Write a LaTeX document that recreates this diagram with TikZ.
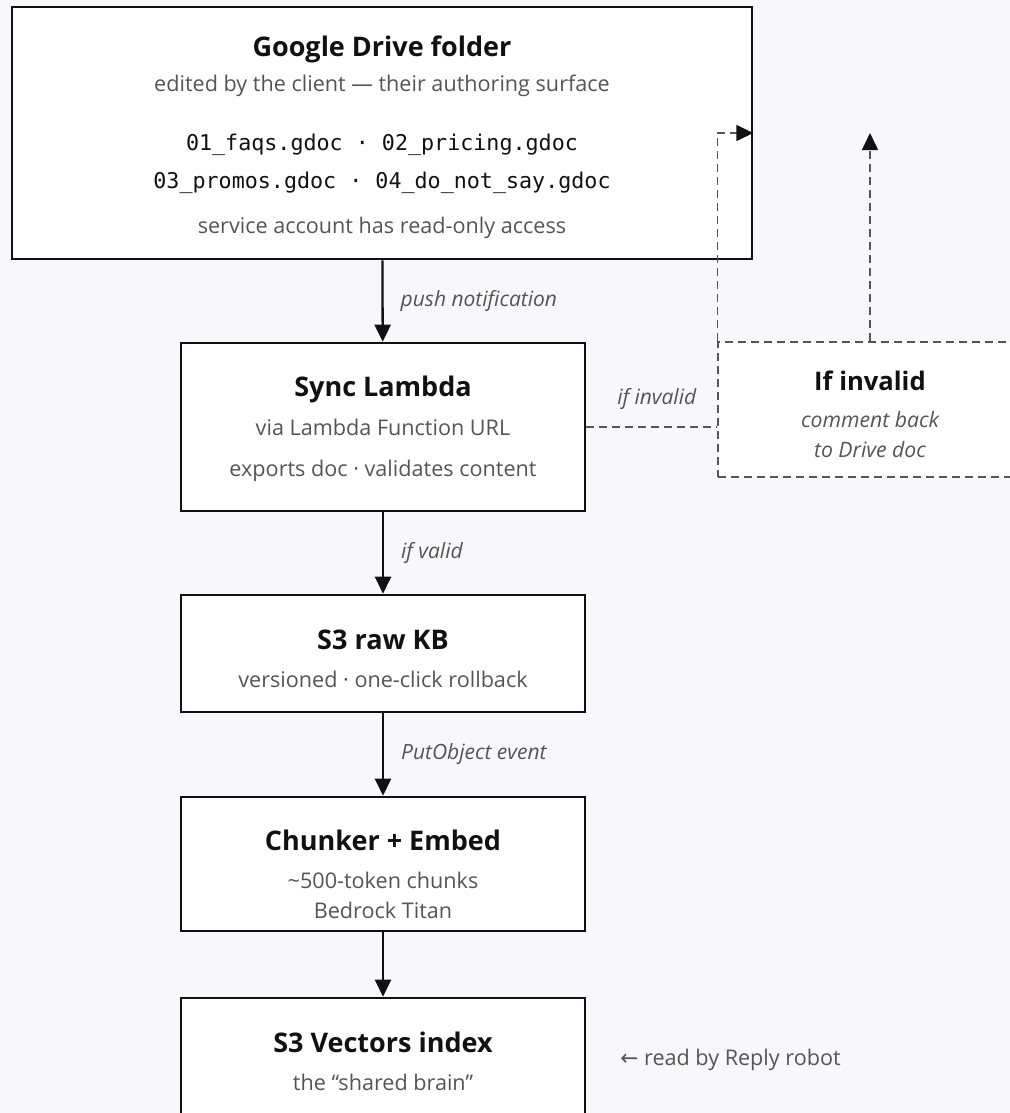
\documentclass[tikz,border=0pt]{standalone}
\usepackage{fontspec}
\setmainfont{Open Sans}
\newfontfamily\codefont{DejaVu Sans Mono}
\newfontfamily\symfont{DejaVu Sans}
\usetikzlibrary{arrows.meta}

\definecolor{pagebg}{HTML}{F7F7FC}
\definecolor{ink}{HTML}{111111}
\definecolor{subgray}{HTML}{555555}

\tikzset{
  box/.style={draw=ink, line width=1.3pt, fill=white, inner sep=0pt},
  dashbox/.style={draw=subgray, line width=0.75pt, dash pattern=on 4pt off 2.5pt, fill=white, inner sep=0pt},
  boxtitle/.style={font=\fontsize{13.5}{15}\selectfont\bfseries, text=ink, inner sep=0pt, anchor=base},
  boxsub/.style={font=\fontsize{10.8}{13}\selectfont, text=subgray, inner sep=0pt, anchor=base},
  boxnote/.style={font=\fontsize{10.6}{13}\selectfont\itshape, text=subgray, inner sep=0pt, anchor=base},
  filename/.style={font=\codefont\fontsize{10.85}{13}\selectfont, text=ink, inner sep=0pt, anchor=base},
  flow/.style={draw=ink, line width=1.15pt, -{Triangle[length=8.5pt,width=8pt]}},
  backflow/.style={draw=subgray, line width=0.75pt, dash pattern=on 4pt off 2.5pt,
    -{Triangle[length=8.5pt,width=8pt,color=ink]}},
  edgelabel/.style={font=\fontsize{10.5}{12}\selectfont\itshape, text=subgray, anchor=west, xshift=8.5pt, inner sep=0pt}
}

\begin{document}
\begin{tikzpicture}[x=0.5pt, y=-0.5pt]
  \clip (0,0) rectangle (1010,1113);
  \fill[pagebg] (0,0) rectangle (1010,1113);

  % boxes
  \node[box, minimum width=370pt, minimum height=126pt] (drive) at (382,133) {};
  \node[box, minimum width=202pt, minimum height=84pt] (sync) at (383,427) {};
  \node[dashbox, minimum width=152pt, minimum height=67.5pt] (invalid) at (870,409.5) {};
  \node[box, minimum width=202pt, minimum height=58.5pt] (rawkb) at (383,653.5) {};
  \node[box, minimum width=202pt, minimum height=67pt] (chunker) at (383,864) {};
  \node[box, minimum width=202pt, minimum height=75pt] (vectors) at (383,1073) {};

  % box texts
  \node[boxtitle] (driveTitle) at (382,57) {Google Drive folder};
  \node[boxsub] (driveSub) at (382,91) {edited by the client — their authoring surface};
  \node[filename] (driveFilesA) at (382,150) {01\_faqs.gdoc · 02\_pricing.gdoc};
  \node[filename] (driveFilesB) at (382,188) {03\_promos.gdoc · 04\_do\_not\_say.gdoc};
  \node[boxsub] (driveAccess) at (382,233) {service account has read-only access};

  \node[boxtitle] (syncTitle) at (383,396) {Sync Lambda};
  \node[boxsub] (syncUrl) at (383,435) {via Lambda Function URL};
  \node[boxsub] (syncJob) at (383,476) {exports doc · validates content};

  \node[boxtitle, font=\fontsize{12.8}{15}\selectfont\bfseries] (invalidTitle) at (870,390) {If invalid};
  \node[boxnote] (invalidNoteA) at (870,427) {comment back};
  \node[boxnote] (invalidNoteB) at (870,457) {to Drive doc};

  \node[boxtitle] (rawkbTitle) at (383,649) {S3 raw KB};
  \node[boxsub] (rawkbSub) at (383,687) {versioned · one-click rollback};

  \node[boxtitle] (chunkerTitle) at (383,850) {Chunker + Embed};
  \node[boxsub] (chunkerSubA) at (383,888) {\textasciitilde500-token chunks};
  \node[boxsub] (chunkerSubB) at (383,918) {Bedrock Titan};

  \node[boxtitle] (vectorsTitle) at (383,1052) {S3 Vectors index};
  \node[boxsub] (vectorsSub) at (383,1090) {the “shared brain”};

  \node[boxsub, anchor=base west] (readBy) at (620,1065) {{\symfont ←} read by Reply robot};

  % main flow
  \draw[flow] (drive) -- node[edgelabel] {push notification} (sync);
  \draw[flow] (sync) -- node[edgelabel] {if valid} (rawkb);
  \draw[flow] (rawkb) -- node[edgelabel] {PutObject event} (chunker);
  \draw[flow] (chunker) -- (vectors);

  % invalid branch
  \draw[draw=subgray, line width=0.75pt, dash pattern=on 4pt off 2.5pt]
    (sync.east) -- node[midway, above=8.5pt, xshift=2.5pt, inner sep=0pt, font=\fontsize{10.5}{12}\selectfont\itshape, text=subgray] (ifInvalid) {if invalid}
    (sync.east -| invalid.west);
  \draw[backflow] (invalid.north west) |- (drive.east);
  \draw[backflow] (invalid.north) -- (invalid.north |- drive.east);
\end{tikzpicture}
\end{document}
